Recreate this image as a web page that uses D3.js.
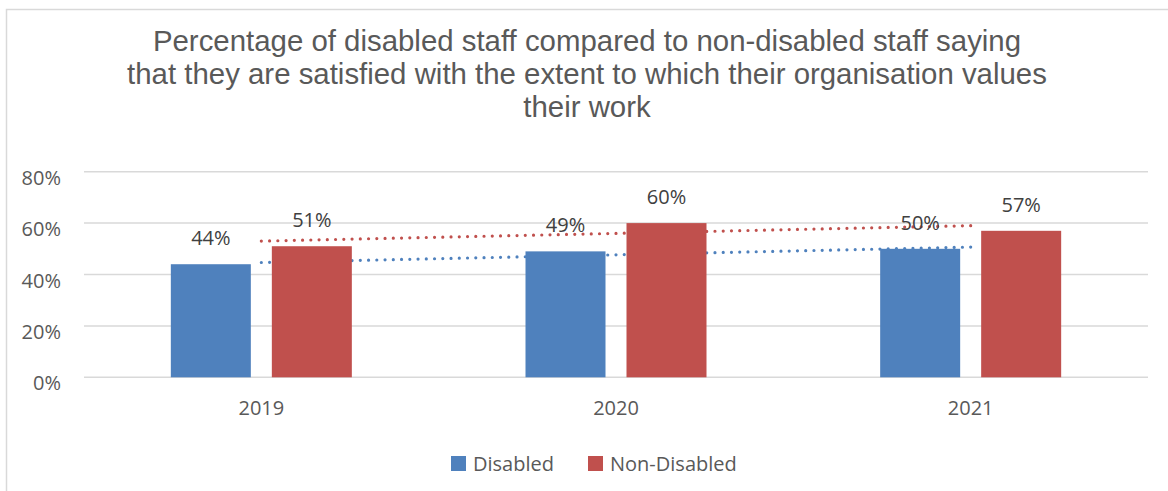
<!DOCTYPE html>
<html>
<head>
<meta charset="utf-8">
<script src="https://cdn.jsdelivr.net/npm/d3@7"></script>
<style>
  body { margin: 0; background: #fff; }
  svg { display: block; }
</style>
</head>
<body>
<svg id="chart" width="1168" height="491"></svg>
<script>
// chart data
var years = ["2019", "2020", "2021"];
var seriesNames = ["Disabled", "Non-Disabled"];
var disabled = [44, 49, 50];
var nonDisabled = [51, 60, 57];
var yTicks = [0, 20, 40, 60, 80];
var titleLines = [
    "Percentage of disabled staff compared to non-disabled staff saying",
    "that they are satisfied with the extent to which their organisation values",
    "their work"
];

var colors = { "Disabled": "#4F81BD", "Non-Disabled": "#C0504D" };
var labelFont = "'Open Sans', 'Noto Sans', sans-serif";

var svg = d3.select("#chart");

// outer chart border (cut off on the right and bottom like the screenshot)
svg.append("rect")
    .attr("x", 6.5).attr("y", 9.5)
    .attr("width", 1200).attr("height", 520)
    .attr("fill", "#fff")
    .attr("stroke", "#d9d9d9")
    .attr("stroke-width", 1.5);

// title
svg.append("g").selectAll("text")
    .data(titleLines).enter().append("text")
    .attr("x", 587)
    .attr("y", function (d, i) { return 51 + i * 33; })
    .attr("text-anchor", "middle")
    .attr("font-family", "'Liberation Sans', Arial, sans-serif")
    .attr("font-size", 29.4)
    .attr("fill", "#595959")
    .text(function (d) { return d; });

var plot = { left: 84, right: 1148, top: 171.7, bottom: 377.3 };

var x0 = d3.scaleBand().domain(years).range([plot.left, plot.right]);
var x1 = d3.scaleBand().domain(seriesNames).range([0, 181]).paddingInner(21 / 101);
var y = d3.scaleLinear().domain([0, 80]).range([plot.bottom, plot.top]);

// gridlines
svg.append("g").selectAll("line")
    .data(yTicks).enter().append("line")
    .attr("x1", plot.left).attr("x2", plot.right)
    .attr("y1", function (d) { return y(d); })
    .attr("y2", function (d) { return y(d); })
    .attr("stroke", "#d9d9d9")
    .attr("stroke-width", 1.5);

// y axis labels
svg.append("g").selectAll("text")
    .data(yTicks).enter().append("text")
    .attr("x", 61)
    .attr("y", function (d) { return y(d) + 13; })
    .attr("text-anchor", "end")
    .attr("font-family", labelFont)
    .attr("font-size", 20)
    .attr("fill", "#595959")
    .text(function (d) { return d + "%"; });

// x axis labels
svg.append("g").selectAll("text")
    .data(years).enter().append("text")
    .attr("x", function (d) { return x0(d) + x0.bandwidth() / 2; })
    .attr("y", 415)
    .attr("text-anchor", "middle")
    .attr("font-family", labelFont)
    .attr("font-size", 20)
    .attr("fill", "#595959")
    .text(function (d) { return d; });

// linear trendlines (least squares over category index), drawn behind bars
function trend(values) {
    var n = values.length;
    var xs = d3.range(n);
    var mx = d3.mean(xs), my = d3.mean(values);
    var num = d3.sum(xs, function (i) { return (i - mx) * (values[i] - my); });
    var den = d3.sum(xs, function (i) { return (i - mx) * (i - mx); });
    var slope = num / den;
    return xs.map(function (i) { return [i, my + slope * (i - mx)]; });
}

var trendLine = d3.line()
    .x(function (d) { return x0(years[d[0]]) + x0.bandwidth() / 2; })
    .y(function (d) { return y(d[1]); });

var series = [
    { name: "Disabled", values: disabled },
    { name: "Non-Disabled", values: nonDisabled }
];

svg.append("g").selectAll("path")
    .data(series).enter().append("path")
    .attr("d", function (s) { return trendLine(trend(s.values)); })
    .attr("fill", "none")
    .attr("stroke", function (s) { return colors[s.name]; })
    .attr("stroke-width", 3.2)
    .attr("stroke-linecap", "round")
    .attr("stroke-dasharray", "0 8.25");

// bars
var barData = [];
series.forEach(function (s) {
    s.values.forEach(function (v, i) {
        barData.push({ year: years[i], name: s.name, value: v });
    });
});

var bars = svg.append("g");
bars.selectAll("rect")
    .data(barData).enter().append("rect")
    .attr("x", function (d) { return x0(d.year) + x0.bandwidth() / 2 - 90.5 + x1(d.name); })
    .attr("y", function (d) { return y(d.value); })
    .attr("width", x1.bandwidth())
    .attr("height", function (d) { return y(0) - y(d.value); })
    .attr("fill", function (d) { return colors[d.name]; });

// data labels
svg.append("g").selectAll("text")
    .data(barData).enter().append("text")
    .attr("x", function (d) { return x0(d.year) + x0.bandwidth() / 2 - 90.5 + x1(d.name) + x1.bandwidth() / 2; })
    .attr("y", function (d) { return y(d.value) - 19; })
    .attr("text-anchor", "middle")
    .attr("font-family", labelFont)
    .attr("font-size", 20)
    .attr("fill", "#404040")
    .text(function (d) { return d.value + "%"; });

// legend
var legendX = [451, 588];
var legend = svg.append("g").selectAll("g")
    .data(seriesNames).enter().append("g")
    .attr("transform", function (d, i) { return "translate(" + legendX[i] + ",456)"; });

legend.append("rect")
    .attr("width", 15).attr("height", 15)
    .attr("fill", function (d) { return colors[d]; });

legend.append("text")
    .attr("x", 22)
    .attr("y", 15)
    .attr("font-family", labelFont)
    .attr("font-size", 20)
    .attr("fill", "#595959")
    .text(function (d) { return d; });
</script>
</body>
</html>
